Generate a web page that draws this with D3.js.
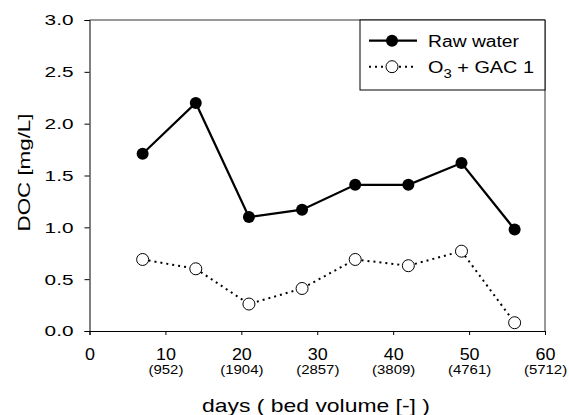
<!DOCTYPE html>
<html><head><meta charset="utf-8">
<script src="https://cdn.jsdelivr.net/npm/d3@7"></script>
<style>body{margin:0;background:#fff;} svg{display:block;font-family:"Liberation Sans",Arial,sans-serif;}</style>
</head><body>
<svg id="c" width="569" height="415"></svg>
<script>
const days = [7, 14, 21, 28, 35, 42, 49, 56];
const rawWater = [1.71, 2.20, 1.10, 1.17, 1.41, 1.41, 1.62, 0.98];
const o3Gac1 = [0.69, 0.60, 0.26, 0.41, 0.69, 0.63, 0.77, 0.08];
const xTicks = [0, 10, 20, 30, 40, 50, 60];
const bedVolumes = ["", "(952)", "(1904)", "(2857)", "(3809)", "(4761)", "(5712)"];
const yTicks = [0, 0.5, 1.0, 1.5, 2.0, 2.5, 3.0];
const seriesNames = ["Raw water", "O3 + GAC 1"];

const FF = "Liberation Sans, Arial, sans-serif";
const svg = d3.select("#c");
const L = 89.5, R = 545, T = 20, B = 331;
const x = d3.scaleLinear().domain([0, 60]).range([L, R]);
const y = d3.scaleLinear().domain([0, 3]).range([B, T]);

function widen(sel, k) {
  sel.each(function() {
    const w = this.getComputedTextLength();
    d3.select(this).attr("textLength", w * k).attr("lengthAdjust", "spacingAndGlyphs");
  });
}

// frame (top & right)
svg.append("path").attr("d", `M${L},${T}H${R}V${B}`).attr("fill","none").attr("stroke","#333").attr("stroke-width",1);

const xa = svg.append("g").attr("transform", `translate(0,${B})`)
  .call(d3.axisBottom(x).tickValues(xTicks).tickFormat(d3.format("d")).tickSizeOuter(0).tickSize(4).tickPadding(13.5));
xa.selectAll("text").attr("font-size", 16).attr("fill","#000").attr("font-family", FF);
widen(xa.selectAll("text"), 1.12);
const bv = xa.selectAll("g.tick").append("text").attr("class","bv").attr("y", 43).attr("fill","#000").attr("font-size", 13)
  .attr("text-anchor","middle").attr("font-family", FF)
  .text((d,i) => bedVolumes[i]);
bv.filter((d,i) => bedVolumes[i] !== "").call(s => widen(s, 1.15));

const ya = svg.append("g").attr("transform", `translate(${L},0)`)
  .call(d3.axisLeft(y).tickValues(yTicks).tickFormat(d3.format(".1f")).tickSizeOuter(0).tickSize(5).tickPadding(11));
ya.selectAll("text").attr("font-size", 15.5).attr("fill","#000").attr("font-family", FF);
widen(ya.selectAll("text"), 1.34);
[xa, ya].forEach(a => { a.select(".domain").attr("stroke","#000"); a.selectAll("line").attr("stroke","#000"); });

svg.append("text").attr("x", 316).attr("y", 412).attr("text-anchor","middle").attr("font-size", 19)
  .attr("textLength", 228).attr("lengthAdjust","spacingAndGlyphs")
  .text("days ( bed volume [-] )");
svg.append("text").attr("transform", `translate(30,172.5) rotate(-90)`).attr("text-anchor","middle").attr("font-size", 16.5)
  .attr("textLength", 118).attr("lengthAdjust","spacingAndGlyphs")
  .text("DOC [mg/L]");

const line = d3.line().x(d => x(d[0])).y(d => y(d[1]));
const rawPts = days.map((d,i) => [d, rawWater[i]]);
const o3Pts = days.map((d,i) => [d, o3Gac1[i]]);

svg.append("path").datum(o3Pts).attr("d", line).attr("fill","none").attr("stroke","#000")
  .attr("stroke-width", 2).attr("stroke-dasharray","2,4");
svg.selectAll("circle.o3").data(o3Pts).enter().append("circle").attr("class","o3")
  .attr("cx", d => x(d[0])).attr("cy", d => y(d[1])).attr("r", 6)
  .attr("fill","#fff").attr("stroke","#000").attr("stroke-width",1);

svg.append("path").datum(rawPts).attr("d", line).attr("fill","none").attr("stroke","#000").attr("stroke-width", 2.2);
svg.selectAll("circle.raw").data(rawPts).enter().append("circle").attr("class","raw")
  .attr("cx", d => x(d[0])).attr("cy", d => y(d[1])).attr("r", 6).attr("fill","#000");

// legend
const lg = svg.append("g");
lg.append("rect").attr("x", 360).attr("y", T).attr("width", R-360).attr("height", 70)
  .attr("fill","#fff").attr("stroke","#000").attr("stroke-width",1);
lg.append("line").attr("x1",369).attr("x2",417).attr("y1",40.7).attr("y2",40.7).attr("stroke","#000").attr("stroke-width",2.2);
lg.append("circle").attr("cx",392).attr("cy",40.7).attr("r",6).attr("fill","#000");
lg.append("line").attr("x1",369).attr("x2",417).attr("y1",66.7).attr("y2",66.7).attr("stroke","#000").attr("stroke-width",2).attr("stroke-dasharray","2,4");
lg.append("circle").attr("cx",392).attr("cy",66.7).attr("r",6).attr("fill","#fff").attr("stroke","#000");
lg.append("text").attr("x",428).attr("y",46.5).attr("font-size",16)
  .attr("textLength", 91).attr("lengthAdjust","spacingAndGlyphs").text(seriesNames[0]);
const t2 = lg.append("text").attr("x",428).attr("y",72.5).attr("font-size",16);
t2.append("tspan").text("O");
t2.append("tspan").attr("dy",5).attr("font-size",12).text("3");
t2.append("tspan").attr("dy",-5).text(" + GAC 1");
t2.attr("textLength", 106).attr("lengthAdjust","spacingAndGlyphs");
</script>
</body></html>
